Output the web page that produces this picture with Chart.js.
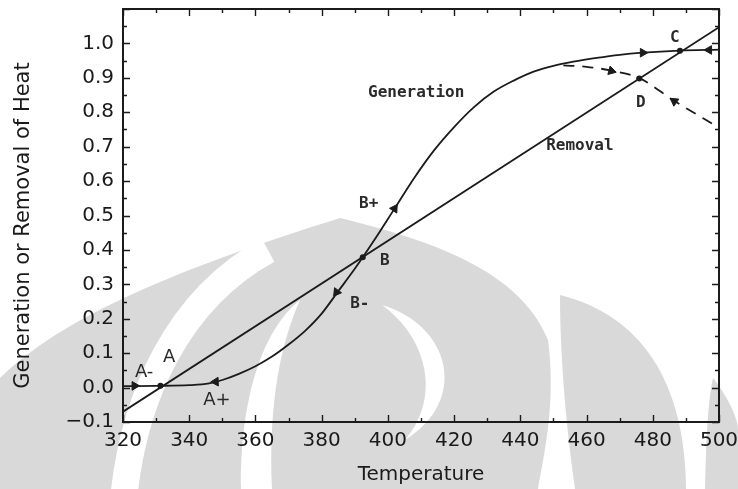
<!DOCTYPE html>
<html>
<head>
<meta charset="utf-8">
<title>Heat generation and removal</title>
<script src="https://cdn.jsdelivr.net/npm/chart.js@4.4.1/dist/chart.umd.min.js"></script>
<style>
  html, body { margin: 0; padding: 0; background: #fff; }
  canvas { display: block; }
</style>
</head>
<body>
<canvas id="heatChart" width="738" height="489"></canvas>
<script>
// Axis ticks
var xTicks = [320, 340, 360, 380, 400, 420, 440, 460, 480, 500];
var yTicks = [-0.1, 0.0, 0.1, 0.2, 0.3, 0.4, 0.5, 0.6, 0.7, 0.8, 0.9, 1.0];

// Heat generation curve (S-shaped)
var genTemps  = [320, 330, 340, 346, 350, 355, 360, 365, 370, 375, 380, 385, 390, 396, 402, 408, 414, 420, 426, 432, 438, 444, 450, 456, 463, 470, 477, 488, 500];
var genValues = [0.004, 0.005, 0.007, 0.012, 0.022, 0.04, 0.062, 0.09, 0.125, 0.165, 0.215, 0.28, 0.345, 0.43, 0.52, 0.61, 0.69, 0.757, 0.815, 0.86, 0.892, 0.918, 0.935, 0.947, 0.958, 0.967, 0.973, 0.979, 0.982];

// Heat removal line
var removalTemps  = [320, 500];
var removalValues = [-0.07, 1.047];

// Dashed branch through D
var branchTemps  = [453, 460, 468, 476, 486, 500];
var branchValues = [0.936, 0.932, 0.92, 0.899, 0.836, 0.755];

// Direction arrows along the curves (angle in degrees, 0 = up)
var arrowTemps  = [323.5, 348, 384.5, 402, 477, 497, 467.5, 486.5];
var arrowValues = [0.005, 0.017, 0.277, 0.52, 0.973, 0.981, 0.92, 0.832];
var arrowAngles = [90, 268, 216, 33, 90, 270, 105, 305];

// Steady states A, B, D, C
var stateTemps  = [331.3, 392.4, 475.9, 488.2];
var stateValues = [0.005, 0.379, 0.898, 0.979];

// Text notes placed in data units
var noteText  = ['Generation', 'Removal', 'A', 'A-', 'A+', 'B', 'B+', 'B-', 'C', 'D'];
var noteTemps = [394.0, 447.8, 332.1, 323.6, 344.2, 397.6, 391.3, 388.6, 485.2, 474.9];
var noteVals  = [0.855, 0.703, 0.087, 0.044, -0.038, 0.369, 0.535, 0.244, 1.015, 0.828];
var noteMono  = [true, true, false, false, false, true, true, true, true, true];

var yTitle = 'Generation or Removal of Heat';

function pairs(xs, ys) {
  return xs.map(function (x, i) { return { x: x, y: ys[i] }; });
}

var INK = '#1b1b1b';

// Light grey crest printed behind the plot
var crestPlugin = {
  id: 'crest',
  beforeDraw: function (chart) {
    var ctx = chart.ctx;
    ctx.save();
    ctx.fillStyle = '#fff';
    ctx.fillRect(0, 0, chart.width, chart.height);
    ctx.fillStyle = '#d9d9d9';

    ctx.beginPath();
    ctx.moveTo(0, 378);
    ctx.bezierCurveTo(70, 310, 200, 262, 340, 218);
    ctx.bezierCurveTo(430, 240, 520, 270, 548, 340);
    ctx.bezierCurveTo(556, 400, 545, 450, 538, 489);
    ctx.lineTo(0, 489);
    ctx.closePath();
    ctx.fill();

    ctx.beginPath();
    ctx.moveTo(560, 295);
    ctx.bezierCurveTo(640, 315, 685, 380, 686, 489);
    ctx.lineTo(575, 489);
    ctx.bezierCurveTo(565, 420, 560, 350, 560, 295);
    ctx.closePath();
    ctx.fill();

    ctx.beginPath();
    ctx.moveTo(713, 378);
    ctx.bezierCurveTo(730, 400, 738, 420, 738, 430);
    ctx.lineTo(738, 489);
    ctx.lineTo(705, 489);
    ctx.bezierCurveTo(706, 440, 708, 400, 713, 378);
    ctx.closePath();
    ctx.fill();

    ctx.fillStyle = '#fff';
    ctx.strokeStyle = '#fff';
    ctx.lineWidth = 27;
    ctx.beginPath();
    ctx.moveTo(124, 495);
    ctx.bezierCurveTo(134, 400, 176, 300, 268, 250);
    ctx.stroke();

    ctx.beginPath();
    ctx.moveTo(300, 300);
    ctx.bezierCurveTo(262, 330, 240, 400, 241, 489);
    ctx.lineTo(272, 489);
    ctx.bezierCurveTo(268, 400, 282, 340, 300, 300);
    ctx.closePath();
    ctx.fill();

    ctx.beginPath();
    ctx.moveTo(382, 305);
    ctx.bezierCurveTo(450, 325, 470, 400, 405, 440);
    ctx.bezierCurveTo(440, 400, 430, 340, 382, 305);
    ctx.closePath();
    ctx.fill();
    ctx.restore();
  }
};

// Box frame with inward ticks on all four sides, plus the rotated y title
var frameTicksPlugin = {
  id: 'frameTicks',
  afterDatasetsDraw: function (chart) {
    var a = chart.chartArea, ctx = chart.ctx;
    var xs = chart.scales.x, ys = chart.scales.y;
    ctx.save();
    ctx.strokeStyle = INK;
    ctx.lineWidth = 2;
    ctx.strokeRect(a.left, a.top, a.right - a.left, a.bottom - a.top);
    ctx.lineWidth = 1.4;
    ctx.beginPath();
    for (var t = xs.min; t <= xs.max + 0.001; t += 10) {
      var px = Math.round(xs.getPixelForValue(t)) + 0.5;
      var len = (Math.round(t) % 20 === 0) ? 7 : 4;
      ctx.moveTo(px, a.bottom); ctx.lineTo(px, a.bottom - len);
      ctx.moveTo(px, a.top); ctx.lineTo(px, a.top + len);
    }
    for (var k = -2; k <= 22; k++) {
      var py = Math.round(ys.getPixelForValue(k * 0.05)) + 0.5;
      var l = (k % 2 === 0) ? 7 : 4;
      ctx.moveTo(a.left, py); ctx.lineTo(a.left + l, py);
      ctx.moveTo(a.right, py); ctx.lineTo(a.right - l, py);
    }
    ctx.stroke();

    // y title sits a little below the plot's middle
    ctx.translate(24, (a.top + a.bottom) / 2 + 10);
    ctx.rotate(-Math.PI / 2);
    ctx.fillStyle = '#1a1a1a';
    ctx.font = '21px "DejaVu Sans"';
    ctx.textAlign = 'center';
    ctx.textBaseline = 'middle';
    ctx.fillText(yTitle, 0, 0);
    ctx.restore();
  }
};

// Point labels (Generation, Removal, A..D)
var notesPlugin = {
  id: 'notes',
  afterDatasetsDraw: function (chart) {
    var ctx = chart.ctx, xs = chart.scales.x, ys = chart.scales.y;
    ctx.save();
    ctx.fillStyle = '#2a2a2a';
    ctx.textAlign = 'left';
    ctx.textBaseline = 'middle';
    noteText.forEach(function (txt, i) {
      ctx.font = noteMono[i] ? 'bold 16px "DejaVu Sans Mono"' : '18px "DejaVu Sans"';
      ctx.fillText(txt, xs.getPixelForValue(noteTemps[i]), ys.getPixelForValue(noteVals[i]));
    });
    ctx.restore();
  }
};

new Chart(document.getElementById('heatChart'), {
  type: 'line',
  data: {
    datasets: [
      {
        label: 'Generation',
        data: pairs(genTemps, genValues),
        borderColor: INK,
        borderWidth: 1.8,
        pointRadius: 0,
        cubicInterpolationMode: 'monotone'
      },
      {
        label: 'Removal',
        data: pairs(removalTemps, removalValues),
        borderColor: INK,
        borderWidth: 1.8,
        pointRadius: 0
      },
      {
        label: 'Branch',
        data: pairs(branchTemps, branchValues),
        borderColor: INK,
        borderWidth: 1.8,
        borderDash: [11, 8],
        pointRadius: 0,
        cubicInterpolationMode: 'monotone'
      },
      {
        label: 'Arrows',
        data: pairs(arrowTemps, arrowValues),
        showLine: false,
        pointStyle: 'triangle',
        pointRadius: 5,
        pointRotation: arrowAngles,
        pointBackgroundColor: INK,
        pointBorderColor: INK,
        pointBorderWidth: 1
      },
      {
        label: 'States',
        data: pairs(stateTemps, stateValues),
        showLine: false,
        pointStyle: 'circle',
        pointRadius: 3,
        pointBackgroundColor: INK,
        pointBorderColor: INK,
        pointBorderWidth: 0
      }
    ]
  },
  options: {
    responsive: false,
    animation: false,
    layout: { padding: { top: 9, right: 19, left: 0, bottom: 0 } },
    plugins: {
      legend: { display: false },
      tooltip: { enabled: false }
    },
    scales: {
      x: {
        type: 'linear',
        min: 320,
        max: 500,
        grid: { display: false, drawTicks: false },
        border: { display: false },
        afterBuildTicks: function (s) {
          s.ticks = xTicks.map(function (v) { return { value: v }; });
        },
        afterFit: function (s) {
          s.height = 67;
          s.paddingLeft = 0; s.paddingRight = 0;
        },
        ticks: {
          padding: 7,
          maxRotation: 0,
          color: '#1a1a1a',
          font: { family: '"DejaVu Sans"', size: 20 },
          callback: function (v) { return String(v); }
        },
        title: {
          display: true,
          text: 'Temperature',
          color: '#1a1a1a',
          font: { family: '"DejaVu Sans"', size: 20 },
          padding: { top: 0, bottom: 2 }
        }
      },
      y: {
        type: 'linear',
        min: -0.1,
        max: 1.1,
        grid: { display: false, drawTicks: false },
        border: { display: false },
        afterBuildTicks: function (s) {
          s.ticks = yTicks.map(function (v) { return { value: v }; });
        },
        afterFit: function (s) {
          s.width = 123;
          s.paddingTop = 0; s.paddingBottom = 0;
        },
        ticks: {
          padding: 9,
          color: '#1a1a1a',
          font: { family: '"DejaVu Sans"', size: 20 },
          callback: function (v) {
            return (v < 0 ? '\u2212' : '') + Math.abs(v).toFixed(1);
          }
        },
        title: { display: false }
      }
    }
  },
  plugins: [crestPlugin, frameTicksPlugin, notesPlugin]
});
</script>
</body>
</html>
